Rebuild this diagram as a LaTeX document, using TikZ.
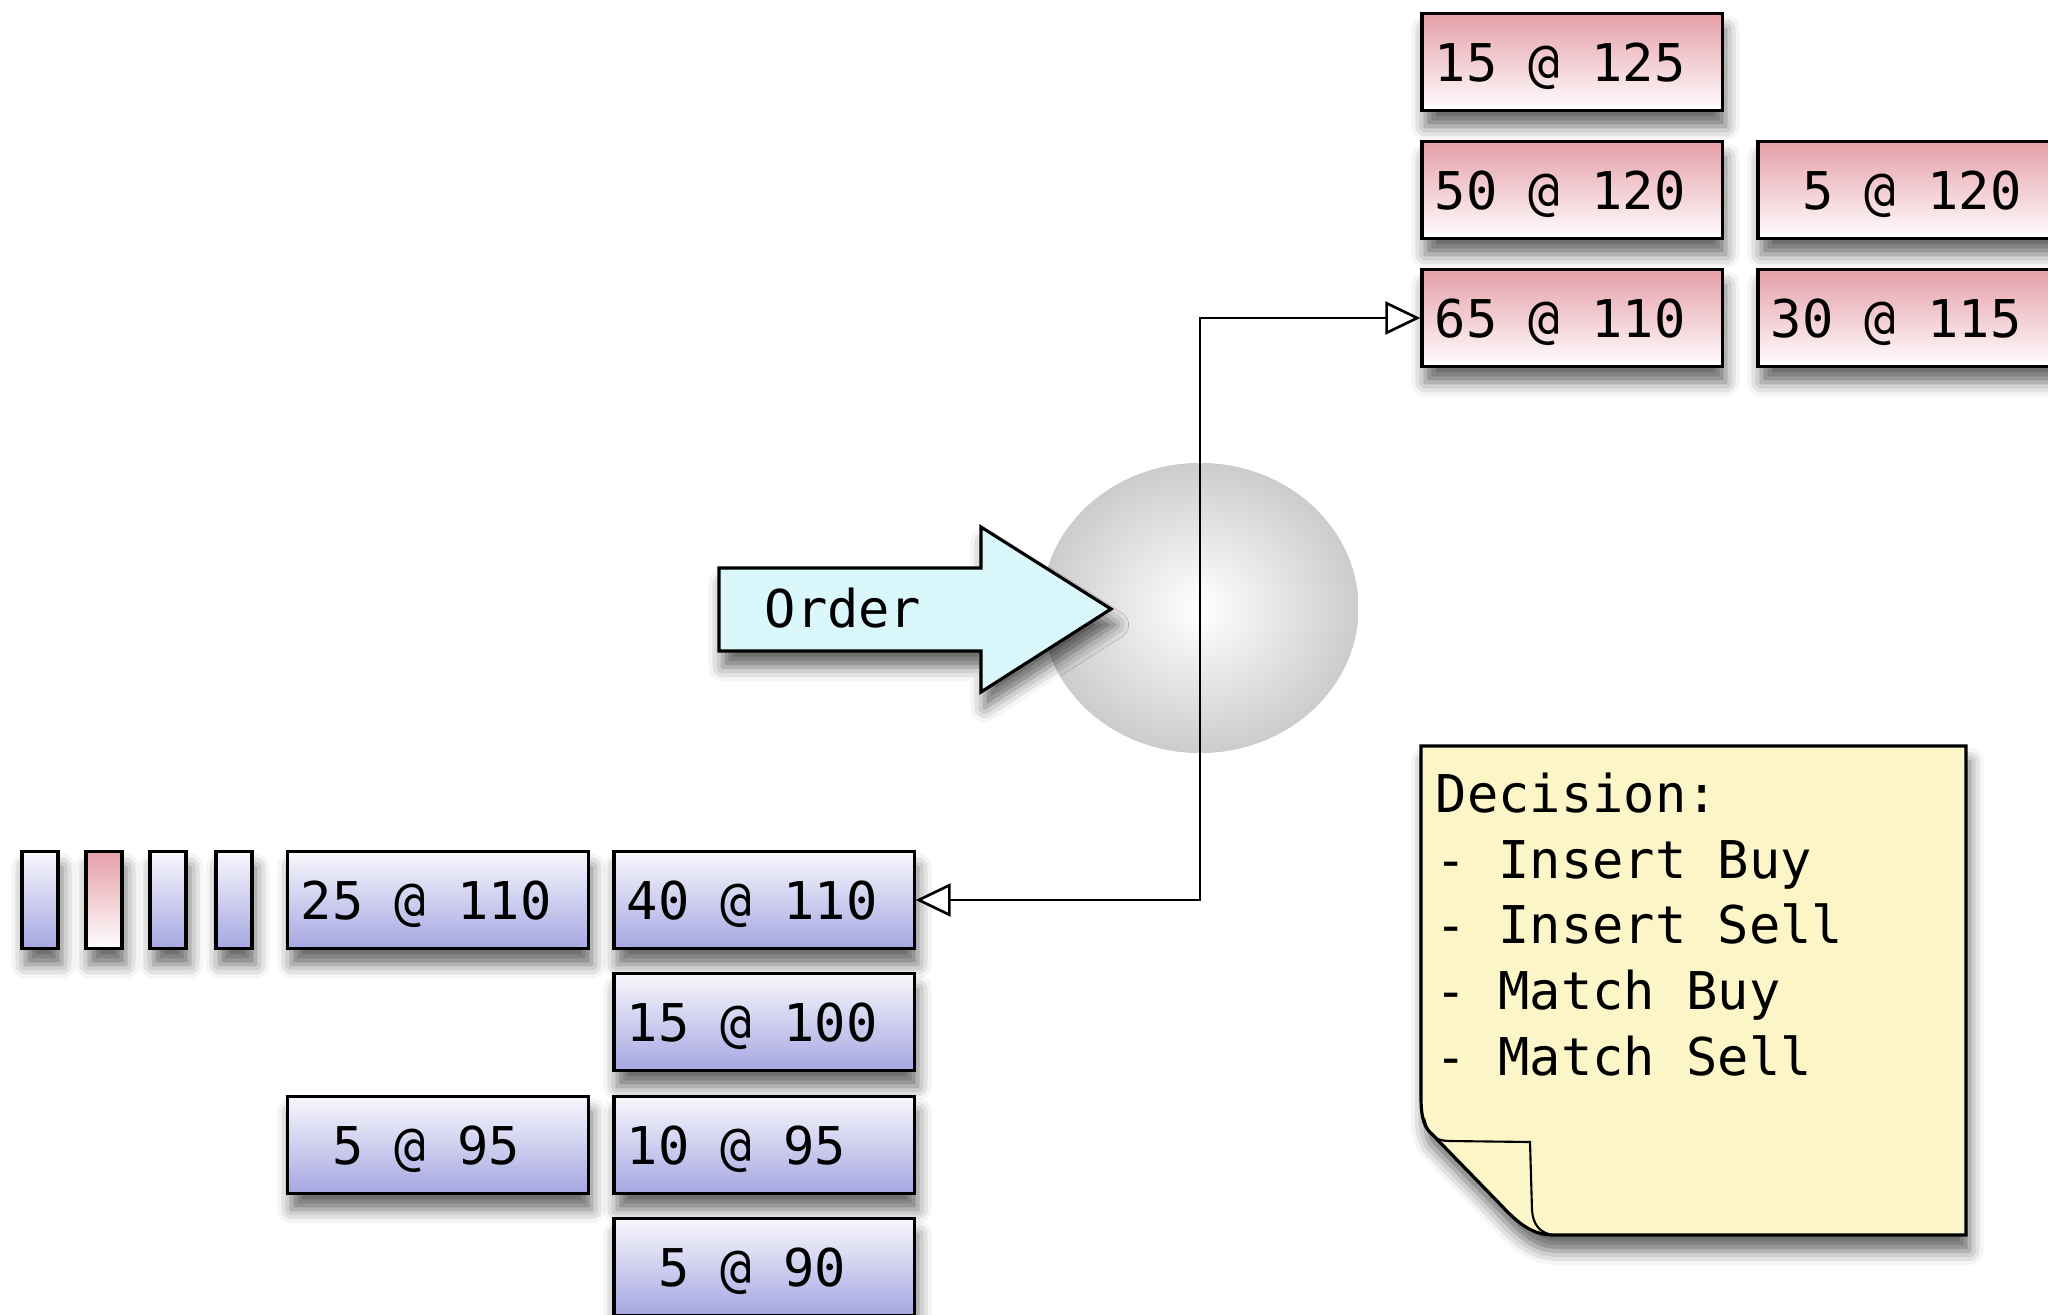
\documentclass[tikz,border=0pt]{standalone}
\usepackage{fontspec}
\newfontfamily\bookfont{DejaVu Sans Mono}
\usetikzlibrary{shapes.geometric,arrows.meta,shadows.blur}

\definecolor{askred}{RGB}{229,158,168}
\definecolor{bidblue}{RGB}{166,166,226}
\definecolor{ordercyan}{RGB}{218,247,252}
\definecolor{noteyellow}{RGB}{252,245,200}

\begin{document}
\begin{tikzpicture}[x=0.01cm,y=-0.01cm,font=\bookfont\fontsize{14.8}{18.7}\selectfont,
                   castshadow/.style={blur shadow={shadow xshift=1pt,shadow yshift=-4.5pt,shadow blur radius=4pt,shadow opacity=60}},
                   cell/.style={draw,line width=0.9pt,minimum height=0.97cm,castshadow},
                   level/.style={cell,minimum width=3cm,text width=2.74cm,inner xsep=0.13cm,text depth=0pt,align=flush left},
                   ask/.style={level,top color=askred,bottom color=white},
                   bid/.style={level,top color=white!92!bidblue,bottom color=bidblue},
                   tick/.style={cell,minimum width=0.36cm,inner sep=0pt},
                   link/.style={line width=0.75pt,{Triangle[open,fill=white,length=0.35cm,width=0.33cm]}-{Triangle[open,fill=white,length=0.35cm,width=0.33cm]}}]
\path[use as bounding box,clip] (0,0) rectangle (2048,1315);

\node (ask1) [ask] at (1572,62) {15 @ 125};
\node (ask2) [ask] at (1572,190) {50 @ 120};
\node (ask3) [ask] at (1572,318) {65 @ 110};
\node (ask2b) [ask] at (1908,190) {\hphantom{0}5 @ 120};
\node (ask3b) [ask] at (1908,318) {30 @ 115};

\node (q1) [tick,top color=white!92!bidblue,bottom color=bidblue] at (40,900) {};
\node (q2) [tick,top color=askred,bottom color=white] at (104,900) {};
\node (q3) [tick,top color=white!92!bidblue,bottom color=bidblue] at (168,900) {};
\node (q4) [tick,top color=white!92!bidblue,bottom color=bidblue] at (234,900) {};

\node (bid1b) [bid] at (438,900) {25 @ 110};
\node (bid1) [bid] at (764,900) {40 @ 110};
\node (bid2) [bid] at (764,1022) {15 @ 100};
\node (bid3b) [bid] at (438,1145) {\hphantom{0}5 @ 95};
\node (bid3) [bid] at (764,1145) {10 @ 95};
\node (bid4) [bid] at (764,1267) {\hphantom{0}5 @ 90};

\node (engine) [ellipse,minimum width=3.17cm,minimum height=2.9cm,inner color=white,outer color=black!20] at (1200,608) {};

\draw[line width=0.9pt,fill=ordercyan,castshadow] (719,568) -- (981,568) -- (981,527) -- (1111,609)
  -- (981,692) -- (981,651) -- (719,651) -- cycle;
\node (order) at (843,608) {Order};

\draw[link] (bid1.east) -- (bid1.east -| engine.center) |- (ask3.west);

\draw[line width=0.9pt,fill=noteyellow,castshadow] (1421,746) -- (1966,746) -- (1966,1235) -- (1553,1235)
  .. controls (1530,1235) and (1515,1220) .. (1499,1203) -- (1428,1130)
  .. controls (1422,1122) and (1421,1110) .. (1421,1097) -- cycle;
\draw[line width=0.6pt] (1424,1118) .. controls (1428,1136) and (1436,1141) .. (1450,1141) -- (1530,1142)
  -- (1532,1210) .. controls (1533,1225) and (1540,1233) .. (1553,1235);
\node (decision) [anchor=north west,inner sep=0pt,align=left] at (1435,772)
  {Decision:\\- Insert Buy\\- Insert Sell\\- Match Buy\\- Match Sell};
\end{tikzpicture}
\end{document}
